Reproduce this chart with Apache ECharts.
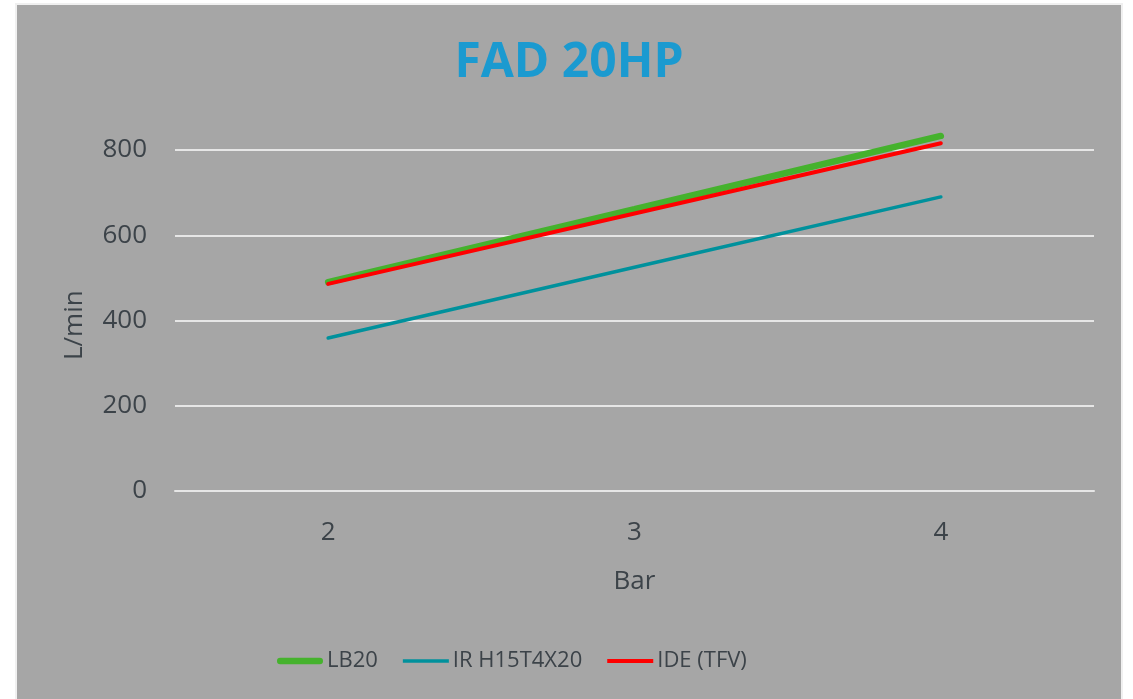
<!DOCTYPE html>
<html lang="en">
<head>
    <meta charset="UTF-8">
    <title>FAD 20HP</title>
    <script src="https://cdn.jsdelivr.net/npm/echarts@6/dist/echarts.min.js"></script>
    <style>
        *{
            margin:0;
            padding:0;
        }
        body {
            background:#ffffff;
            width:1133px;
            height:699px;
            overflow:hidden;
        }
        .frame {
            position:absolute;
            left:15px;
            top:3px;
            width:1108px;
            height:700px;
            background:#f0f0f0;
        }
        #main {
            position:absolute;
            left:2px;
            top:2px;
            width:1104px;
            height:694px;
            background:#a6a6a6;
        }
    </style>
</head>
<body>
<div class="frame"><div id="main"></div></div>
<script>
    var categories = ['2', '3', '4'];
    var lb20 = [490, 661, 833];
    var irH15 = [359, 525, 690];
    var ideTfv = [486, 651, 816];
    var yTicks = [0, 200, 400, 600, 800];

    var font = '"Open Sans", "Noto Sans", sans-serif';
    var textColor = '#3c4349';
    var gridColor = '#e6e6e6';

    var chart = echarts.init(document.getElementById('main'));

    var option = {
        backgroundColor: '#a6a6a6',
        title: {
            text: 'FAD 20HP',
            left: 'center',
            top: 29,
            textStyle: {
                color: '#1b9ad0',
                fontSize: 48,
                fontWeight: 'bold',
                fontFamily: font
            }
        },
        legend: {
            bottom: 22,
            left: 255,
            itemWidth: 46,
            itemHeight: 8,
            itemGap: 25,
            textStyle: {
                color: textColor,
                fontSize: 22,
                fontFamily: font,
                padding: [0, 0, 0, -1]
            },
            data: [
                {name: 'LB20', icon: 'path://M3,0 L43,0 A3,3 0 0 1 43,6.5 L3,6.5 A3,3 0 0 1 3,0 Z'},
                {name: 'IR H15T4X20', icon: 'path://M0,0 L46,0 L46,3.5 L0,3.5 Z'},
                {name: 'IDE (TFV)', icon: 'path://M0,0 L46,0 L46,4 L0,4 Z'}
            ]
        },
        grid: {
            left: 158,
            right: 27,
            top: 102.4,
            bottom: 208,
            outerBoundsMode: 'none'
        },
        xAxis: {
            type: 'category',
            data: categories,
            boundaryGap: true,
            name: 'Bar',
            nameLocation: 'middle',
            nameGap: 78,
            nameTextStyle: {color: textColor, fontSize: 26, fontFamily: font},
            axisLine: {show: true, lineStyle: {color: gridColor, width: 2}},
            axisTick: {show: false},
            axisLabel: {color: textColor, fontSize: 26, fontFamily: font, margin: 29}
        },
        yAxis: {
            type: 'value',
            min: 0,
            max: 900,
            interval: 200,
            name: 'L/min',
            nameLocation: 'middle',
            nameGap: 87,
            nameTextStyle: {color: textColor, fontSize: 26, fontFamily: font, padding: [0, 52, 0, 0]},
            axisLine: {show: false},
            axisTick: {show: false},
            splitLine: {
                lineStyle: {
                    color: [gridColor, gridColor, gridColor, gridColor, gridColor, 'rgba(0,0,0,0)'],
                    width: 2
                }
            },
            axisLabel: {
                color: textColor,
                fontSize: 26,
                fontFamily: font,
                margin: 28,
                formatter: function (v) {
                    return yTicks.indexOf(v) >= 0 ? String(v) : '';
                }
            }
        },
        series: [
            {
                name: 'LB20',
                type: 'line',
                data: lb20,
                symbol: 'none',
                color: '#45b22d',
                lineStyle: {width: 6.5, cap: 'round'},
                z: 2
            },
            {
                name: 'IR H15T4X20',
                type: 'line',
                data: irH15,
                symbol: 'none',
                color: '#00919c',
                lineStyle: {width: 3.5, cap: 'round'},
                z: 3
            },
            {
                name: 'IDE (TFV)',
                type: 'line',
                data: ideTfv,
                symbol: 'none',
                color: '#ff0000',
                lineStyle: {width: 4, cap: 'round'},
                z: 4
            }
        ]
    };

    chart.setOption(option);
</script>
</body>
</html>
